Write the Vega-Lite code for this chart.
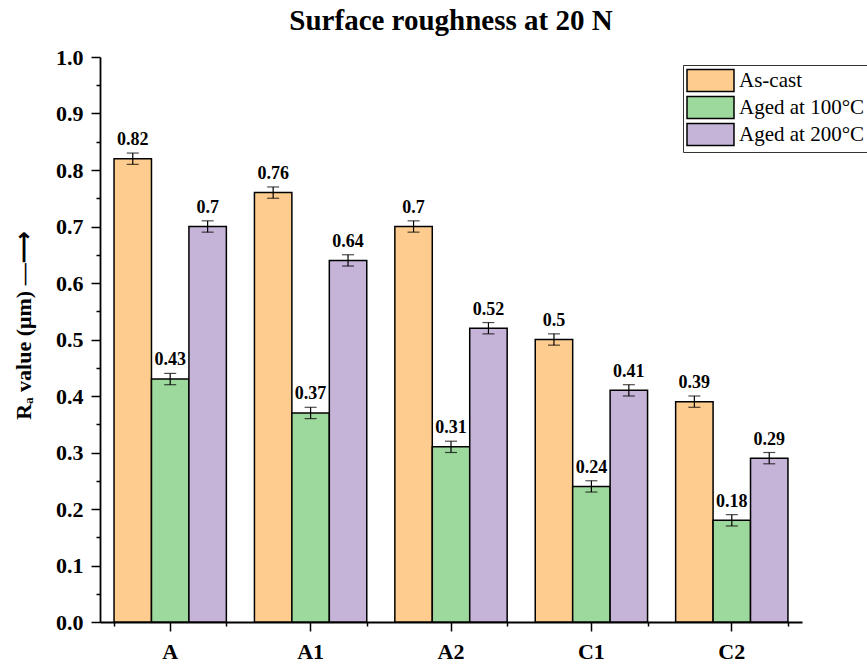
{
  "$schema": "https://vega.github.io/schema/vega-lite/v6.json",
  "autosize": {"type": "none"},
  "width": 702,
  "height": 565,
  "padding": {"left": 100, "top": 57, "right": 65, "bottom": 44},
  "background": "white",
  "title": {"text": "Surface roughness at 20 N", "font": "Liberation Serif", "fontSize": 29, "fontWeight": "bold", "color": "black", "anchor": "middle", "offset": 10},
  "data": {"values": [
    {"cat": "A", "group": "As-cast", "value": 0.82, "lo": 0.81, "hi": 0.83},
    {"cat": "A", "group": "Aged at 100°C", "value": 0.43, "lo": 0.42, "hi": 0.44},
    {"cat": "A", "group": "Aged at 200°C", "value": 0.70, "lo": 0.69, "hi": 0.71},
    {"cat": "A1", "group": "As-cast", "value": 0.76, "lo": 0.75, "hi": 0.77},
    {"cat": "A1", "group": "Aged at 100°C", "value": 0.37, "lo": 0.36, "hi": 0.38},
    {"cat": "A1", "group": "Aged at 200°C", "value": 0.64, "lo": 0.63, "hi": 0.65},
    {"cat": "A2", "group": "As-cast", "value": 0.70, "lo": 0.69, "hi": 0.71},
    {"cat": "A2", "group": "Aged at 100°C", "value": 0.31, "lo": 0.30, "hi": 0.32},
    {"cat": "A2", "group": "Aged at 200°C", "value": 0.52, "lo": 0.51, "hi": 0.53},
    {"cat": "C1", "group": "As-cast", "value": 0.50, "lo": 0.49, "hi": 0.51},
    {"cat": "C1", "group": "Aged at 100°C", "value": 0.24, "lo": 0.23, "hi": 0.25},
    {"cat": "C1", "group": "Aged at 200°C", "value": 0.41, "lo": 0.40, "hi": 0.42},
    {"cat": "C2", "group": "As-cast", "value": 0.39, "lo": 0.38, "hi": 0.40},
    {"cat": "C2", "group": "Aged at 100°C", "value": 0.18, "lo": 0.17, "hi": 0.19},
    {"cat": "C2", "group": "Aged at 200°C", "value": 0.29, "lo": 0.28, "hi": 0.30}
  ]},
  "layer": [
    {
      "mark": {"type": "bar", "stroke": "black", "strokeWidth": 1.5},
      "encoding": {
        "x": {"field": "cat", "type": "nominal", "sort": ["A", "A1", "A2", "C1", "C2"],
          "scale": {"paddingInner": 0.2, "paddingOuter": 0.1},
          "axis": {"orient": "bottom", "title": null, "labelAngle": 0, "labelFont": "Liberation Serif", "labelFontSize": 22, "labelFontWeight": "bold", "labelColor": "black", "labelPadding": 10, "tickSize": 9, "tickWidth": 1.5, "tickColor": "black", "domainColor": "black", "domainWidth": 1.8}},
        "xOffset": {"field": "group", "type": "nominal", "sort": ["As-cast", "Aged at 100°C", "Aged at 200°C"], "scale": {"paddingInner": 0, "paddingOuter": 0}},
        "y": {"field": "value", "type": "quantitative", "scale": {"domain": [0, 1], "nice": false},
          "axis": {"title": "Rₐ value (μm) —⟶", "titleFont": "Liberation Serif", "titleFontSize": 22, "titleFontWeight": "bold", "titleColor": "black", "titlePadding": 20, "titleY": 268, "titleAlign": "center", "values": [0, 0.1, 0.2, 0.3, 0.4, 0.5, 0.6, 0.7, 0.8, 0.9, 1.0], "format": ".1f", "labelFont": "Liberation Serif", "labelFontSize": 22, "labelFontWeight": "bold", "labelColor": "black", "labelPadding": 8, "tickSize": 9, "tickWidth": 1.5, "tickColor": "black", "domainColor": "black", "domainWidth": 1.8, "grid": false}},
        "color": {"field": "group", "type": "nominal",
          "scale": {"domain": ["As-cast", "Aged at 100°C", "Aged at 200°C"], "range": ["#FECC8E", "#9DD89C", "#C5B3D8"]},
          "legend": {"title": null, "orient": "none", "legendX": 583, "legendY": 8, "strokeColor": "#333", "padding": 3, "symbolType": "M-2,-0.94H2V0.94H-2Z", "symbolSize": 552, "symbolOffset": 12, "symbolStrokeColor": "black", "symbolStrokeWidth": 1.5, "symbolOpacity": 1, "labelFont": "Liberation Serif", "labelFontSize": 21, "labelColor": "black", "labelOffset": 16, "rowPadding": -2.5, "labelLimit": 300}}
      }
    },
    {
      "mark": {"type": "rule", "color": "black", "strokeWidth": 1.2},
      "encoding": {
        "x": {"field": "cat", "type": "nominal", "sort": ["A", "A1", "A2", "C1", "C2"],
          "axis": {"orient": "bottom", "tickBand": "extent", "labels": false, "domain": false, "title": null, "tickSize": 4, "tickWidth": 1.5, "tickColor": "black"}},
        "xOffset": {"field": "group", "type": "nominal", "sort": ["As-cast", "Aged at 100°C", "Aged at 200°C"]},
        "y": {"field": "lo", "type": "quantitative",
          "axis": {"orient": "left", "title": null, "labels": false, "domain": false, "grid": false, "values": [0.05, 0.15, 0.25, 0.35, 0.45, 0.55, 0.65, 0.75, 0.85, 0.95], "tickSize": 4, "tickWidth": 1.5, "tickColor": "black"}},
        "y2": {"field": "hi"}
      }
    },
    {
      "mark": {"type": "tick", "color": "black", "size": 12, "thickness": 1.2},
      "encoding": {
        "x": {"field": "cat", "type": "nominal", "sort": ["A", "A1", "A2", "C1", "C2"], "axis": null},
        "xOffset": {"field": "group", "type": "nominal", "sort": ["As-cast", "Aged at 100°C", "Aged at 200°C"]},
        "y": {"field": "lo", "type": "quantitative", "axis": null}
      }
    },
    {
      "mark": {"type": "tick", "color": "black", "size": 12, "thickness": 1.2},
      "encoding": {
        "x": {"field": "cat", "type": "nominal", "sort": ["A", "A1", "A2", "C1", "C2"], "axis": null},
        "xOffset": {"field": "group", "type": "nominal", "sort": ["As-cast", "Aged at 100°C", "Aged at 200°C"]},
        "y": {"field": "hi", "type": "quantitative", "axis": null}
      }
    },
    {
      "mark": {"type": "text", "baseline": "bottom", "dy": -4, "font": "Liberation Serif", "fontSize": 18, "fontWeight": "bold", "color": "black"},
      "encoding": {
        "x": {"field": "cat", "type": "nominal", "sort": ["A", "A1", "A2", "C1", "C2"], "axis": null},
        "xOffset": {"field": "group", "type": "nominal", "sort": ["As-cast", "Aged at 100°C", "Aged at 200°C"]},
        "y": {"field": "hi", "type": "quantitative", "axis": null},
        "text": {"field": "value", "type": "quantitative", "format": ".2~f"}
      }
    }
  ],
  "resolve": {"axis": {"x": "independent", "y": "independent"}},
  "config": {"view": {"stroke": null}}
}
